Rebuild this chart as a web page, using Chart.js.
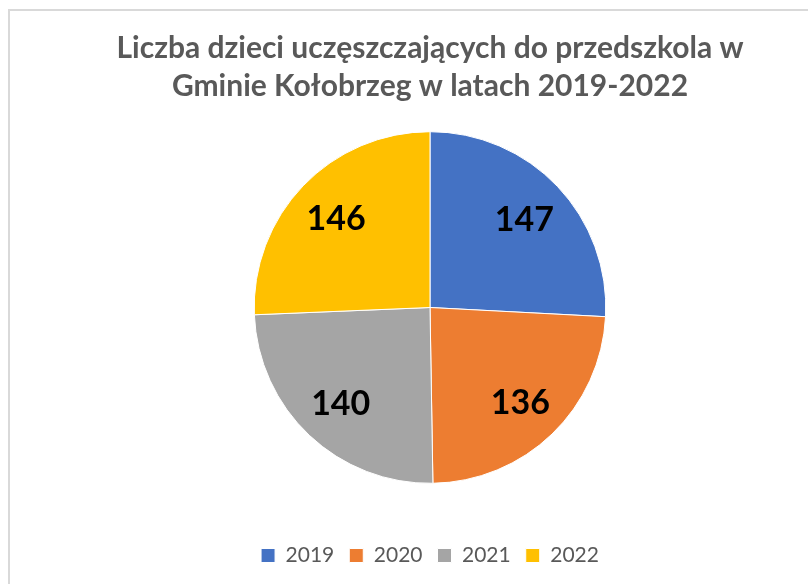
<!DOCTYPE html>
<html>
<head>
<meta charset="utf-8">
<script src="https://cdn.jsdelivr.net/npm/chart.js@4/dist/chart.umd.min.js"></script>
<style>
  html, body { margin: 0; padding: 0; background: #fff; overflow: hidden; width: 808px; height: 584px; }
  #frame { position: absolute; left: 8px; top: 9px; width: 800px; height: 575px; border: 2px solid #d9d9d9; border-right: none; border-bottom: none; box-sizing: border-box; }
  #wrap { position: absolute; left: 8px; top: 10px; width: 800px; height: 574px; }
</style>
</head>
<body>
<div id="frame"></div>
<div id="wrap"><canvas id="chart"></canvas></div>
<script>
const titleLines = ["Liczba dzieci uczęszczających do przedszkola w", "Gminie Kołobrzeg w latach 2019-2022"];
const years = ["2019", "2020", "2021", "2022"];
const children = [147, 136, 140, 146];
const sliceColors = ["#4472C4", "#ED7D31", "#A5A5A5", "#FFC000"];

// draws the bold value inside each slice (no datalabels plugin available)
const valueLabels = {
  id: "valueLabels",
  afterDatasetsDraw(chart) {
    const ctx = chart.ctx;
    const meta = chart.getDatasetMeta(0);
    ctx.save();
    ctx.font = "bold 34px Lato";
    ctx.fillStyle = "#000";
    ctx.textAlign = "center";
    ctx.textBaseline = "middle";
    meta.data.forEach((arc, i) => {
      const p = arc.getProps(["x", "y", "startAngle", "endAngle", "outerRadius"], true);
      const mid = (p.startAngle + p.endAngle) / 2;
      const r = p.outerRadius * 0.74;
      ctx.fillText(String(chart.data.datasets[0].data[i]), p.x + Math.cos(mid) * r, p.y + Math.sin(mid) * r + 2);
    });
    ctx.restore();
  },
};

new Chart(document.getElementById("chart"), {
  type: "pie",
  data: {
    labels: years,
    datasets: [{ data: children, backgroundColor: sliceColors, borderColor: "#ffffff", borderWidth: 1 }],
  },
  options: {
    responsive: true,
    maintainAspectRatio: false,
    animation: false,
    layout: { padding: { top: 0, bottom: 8, left: 44 } },
    plugins: {
      title: {
        display: true,
        text: titleLines,
        color: "#595959",
        font: { family: "Lato", size: 30, weight: "bold", lineHeight: 1.27 },
        padding: { top: 19, bottom: 26 },
      },
      legend: {
        position: "bottom",
        title: { display: true, text: "", font: { size: 1 }, padding: { top: 45, bottom: 0 } },
        labels: {
          color: "#595959",
          font: { family: "Lato", size: 21 },
          boxWidth: 14,
          boxHeight: 14,
          padding: 15,
        },
      },
      tooltip: { enabled: false },
    },
  },
  plugins: [valueLabels],
});
</script>
</body>
</html>
